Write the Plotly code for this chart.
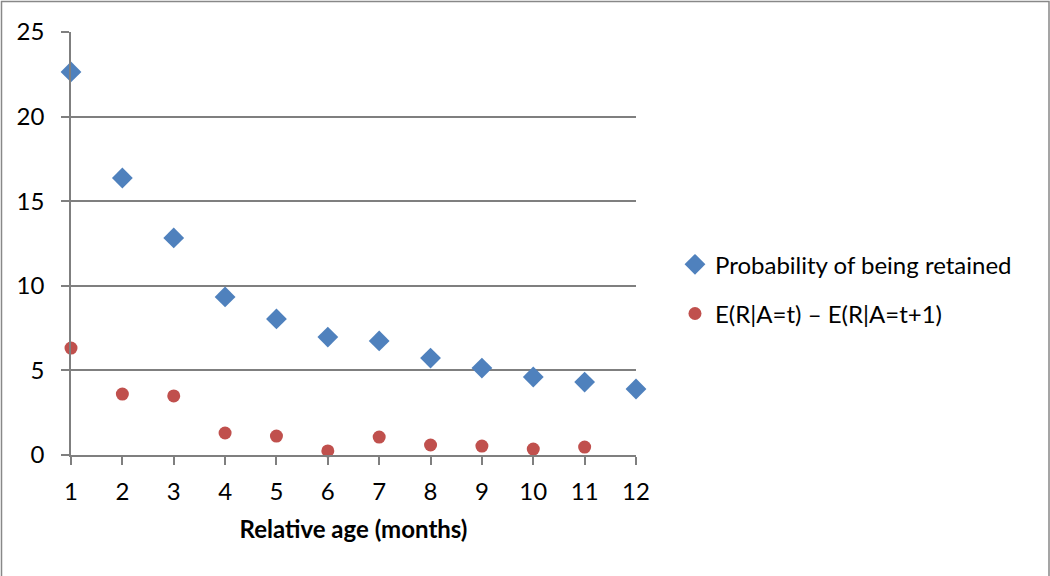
import plotly.graph_objects as go

months = list(range(1, 13))
prob_retained = [22.64, 16.37, 12.83, 9.34, 8.04, 6.97, 6.74, 5.73, 5.14, 4.61, 4.31, 3.90]
diff_months = list(range(1, 12))
diff_values = [6.32, 3.60, 3.49, 1.30, 1.12, 0.24, 1.06, 0.59, 0.53, 0.35, 0.47]

y_ticks = [0, 5, 10, 15, 20, 25]
x_ticks = months

FONT = "Lato, 'Open Sans', sans-serif"
GRID = "#7F7F7F"
FS = 24

fig = go.Figure()
fig.add_trace(go.Scatter(
    x=months, y=prob_retained, mode="markers", name="Probability of being retained",
    legendgroup="a",
    marker=dict(symbol="diamond", size=16, color="#4F81BD"), cliponaxis=False))
fig.add_trace(go.Scatter(
    x=diff_months, y=diff_values, mode="markers", name="E(R|A=t) \u2013 E(R|A=t+1)",
    legendgroup="b",
    marker=dict(symbol="circle", size=13, color="#C0504D"), cliponaxis=False))

fig.update_layout(
    width=1050, height=576,
    margin=dict(l=71, r=414, t=32, b=121),
    paper_bgcolor="white", plot_bgcolor="white",
    font=dict(family=FONT, size=FS, color="black"),
    showlegend=True,
    legend=dict(x=1.069, xanchor="left", y=0.392, yanchor="middle",
                tracegroupgap=15, font=dict(size=FS), bgcolor="rgba(0,0,0,0)"),
    xaxis=dict(range=[1, 12], tickvals=x_ticks, ticktext=[str(v) for v in x_ticks],
               showgrid=False, zeroline=False, showline=True, linecolor=GRID, linewidth=1.5,
               ticks="outside", ticklen=8, tickcolor=GRID, tickwidth=1.5,
               title=dict(text="<b>Relative age (months)</b>", font=dict(size=FS), standoff=18),
               tickfont=dict(size=FS), ticklabelstandoff=6),
    yaxis=dict(range=[0, 25], tickvals=y_ticks, showgrid=True, gridcolor=GRID, gridwidth=1.5,
               zeroline=False, showline=True, linecolor=GRID, linewidth=1.5,
               ticks="outside", ticklen=8, tickcolor=GRID, tickwidth=1.5,
               tickfont=dict(size=FS), ticklabelstandoff=12),
    shapes=[dict(type="rect", xref="paper", yref="paper",
                 x0=(1.5 - 71) / 565, x1=(1049 - 71) / 565,
                 y0=(455 - 590) / 423, y1=(455 - 1.5) / 423,
                 line=dict(color="#888888", width=1.5), layer="below")],
)

fig.write_html("out.html")
